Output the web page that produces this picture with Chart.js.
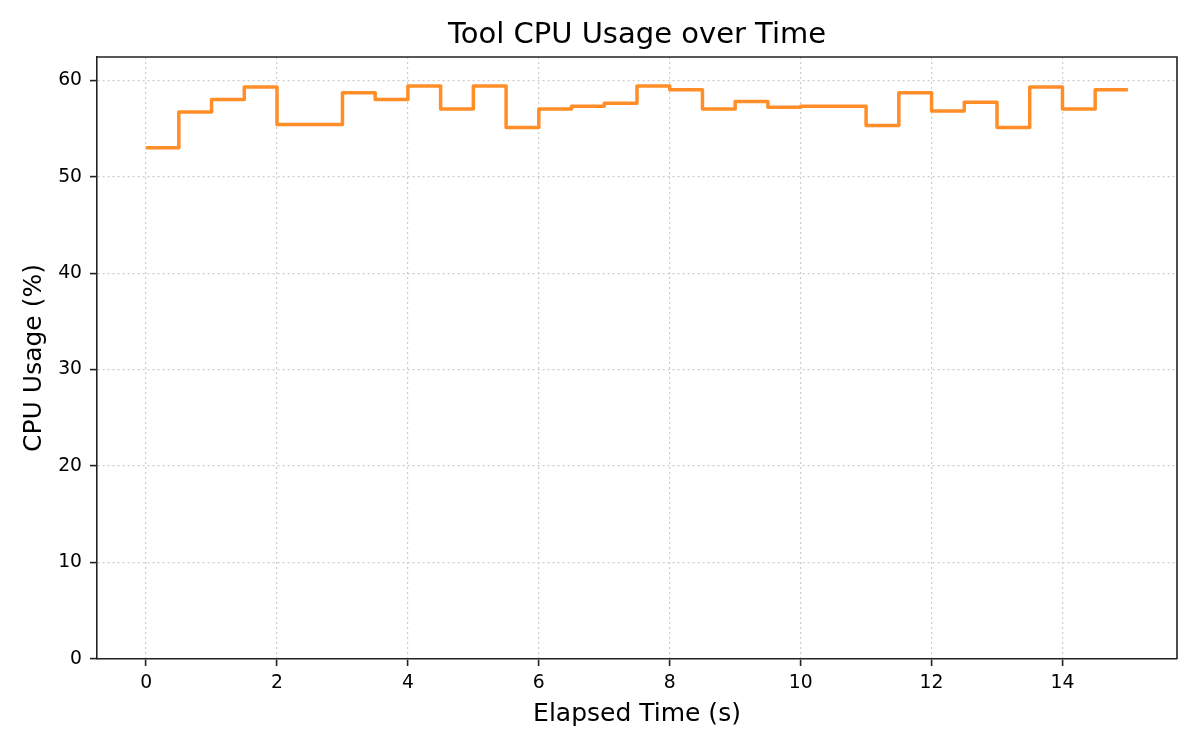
<!DOCTYPE html>
<html>
<head>
<meta charset="utf-8">
<title>Tool CPU Usage over Time</title>
<script src="https://cdn.jsdelivr.net/npm/chart.js@4.4.1/dist/chart.umd.min.js"></script>
<style>
    html, body { margin: 0; padding: 0; background: #fff; }
    #wrap { width: 1200px; height: 750px; }
</style>
</head>
<body>
<div id="wrap"><canvas id="cpuChart" width="1200" height="750"></canvas></div>
<script>
// ========================================
// Data
// ========================================

const elapsedTimes = [0, 0.5, 1, 1.5, 2, 2.5, 3, 3.5, 4, 4.5, 5, 5.5, 6, 6.5, 7, 7.5,
    8, 8.5, 9, 9.5, 10, 10.5, 11, 11.5, 12, 12.5, 13, 13.5, 14, 14.5, 15];
const cpuUsage = [53.0, 56.7, 58.0, 59.3, 55.4, 55.4, 58.7, 58.0, 59.4, 57.0, 59.4, 55.1,
    57.0, 57.3, 57.6, 59.4, 59.0, 57.0, 57.8, 57.2, 57.3, 57.3, 55.3, 58.7,
    56.8, 57.7, 55.1, 59.3, 57.0, 59.0, 59.0];
const xTickValues = [0, 2, 4, 6, 8, 10, 12, 14];
const yTickValues = [0, 10, 20, 30, 40, 50, 60];

// ========================================
// Chart
// ========================================

const FONT = "'DejaVu Sans', 'Liberation Sans', sans-serif";
const AXIS_COLOR = '#222222';
const GRID_COLOR = '#cccccc';
const TITLE_TEXT = 'Tool CPU Usage over Time';

// top/right edges of the axes box, and the title centred over the plot
const frameBox = {
    id: 'frameBox',
    afterDraw(chart) {
        const { ctx, chartArea: a } = chart;
        ctx.save();
        ctx.strokeStyle = AXIS_COLOR;
        ctx.lineWidth = 1.6;
        ctx.beginPath();
        ctx.moveTo(a.left, a.top);
        ctx.lineTo(a.right, a.top);
        ctx.lineTo(a.right, a.bottom);
        ctx.stroke();

        ctx.fillStyle = '#000';
        ctx.font = '29px ' + FONT;
        ctx.textAlign = 'center';
        ctx.textBaseline = 'alphabetic';
        ctx.fillText(TITLE_TEXT, (a.left + a.right) / 2, 42.5);
        ctx.restore();
    }
};

function initializeCpuChart() {
    const ctx = document.getElementById('cpuChart');

    new Chart(ctx, {
        type: 'line',
        data: {
            datasets: [{
                label: 'CPU Usage',
                data: elapsedTimes.map((t, i) => ({ x: t, y: cpuUsage[i] })),
                stepped: true,
                borderColor: 'rgb(255, 142, 40)',
                borderWidth: 3.5,
                pointRadius: 0,
                fill: false,
                borderJoinStyle: 'round'
            }]
        },
        options: {
            responsive: false,
            animation: false,
            devicePixelRatio: 1,
            layout: {
                padding: { left: 0, right: 23, top: 57, bottom: 0 }
            },
            plugins: {
                legend: { display: false },
                tooltip: { enabled: false },
                title: { display: false }
            },
            scales: {
                x: {
                    type: 'linear',
                    min: -0.75,
                    max: 15.75,
                    afterBuildTicks: scale => {
                        scale.ticks = xTickValues.map(v => ({ value: v }));
                    },
                    afterFit: scale => { scale.height = 91; },
                    ticks: {
                        color: '#000',
                        font: { family: FONT, size: 18.75 },
                        padding: 6,
                        maxRotation: 0,
                        callback: v => String(v)
                    },
                    grid: {
                        color: GRID_COLOR,
                        lineWidth: 1.2,
                        tickLength: 7,
                        tickColor: AXIS_COLOR,
                        tickWidth: 1.6
                    },
                    border: { display: true, color: AXIS_COLOR, width: 1.6, dash: [2, 3] },
                    title: {
                        display: true,
                        text: 'Elapsed Time (s)',
                        color: '#000',
                        font: { family: FONT, size: 25, lineHeight: 1.2 },
                        padding: { top: 0, bottom: 21 }
                    }
                },
                y: {
                    min: 0,
                    max: 62.4,
                    afterBuildTicks: scale => {
                        scale.ticks = yTickValues.map(v => ({ value: v }));
                    },
                    afterFit: scale => { scale.width = 97; },
                    ticks: {
                        color: '#000',
                        font: { family: FONT, size: 18.75 },
                        padding: 8,
                        callback: v => String(v)
                    },
                    grid: {
                        color: GRID_COLOR,
                        lineWidth: 1.2,
                        tickLength: 7,
                        tickColor: AXIS_COLOR,
                        tickWidth: 1.6
                    },
                    border: { display: true, color: AXIS_COLOR, width: 1.6, dash: [2, 3] },
                    title: {
                        display: true,
                        text: 'CPU Usage (%)',
                        color: '#000',
                        font: { family: FONT, size: 25, lineHeight: 1.2 },
                        padding: { top: 19, bottom: 0 }
                    }
                }
            }
        },
        plugins: [frameBox]
    });
}

document.addEventListener('DOMContentLoaded', initializeCpuChart);
</script>
</body>
</html>
